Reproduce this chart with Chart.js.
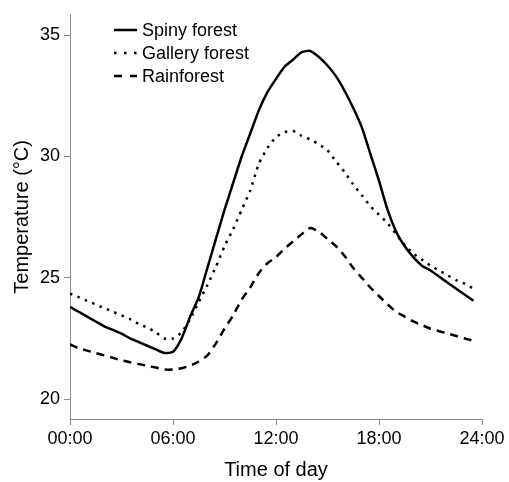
<!DOCTYPE html>
<html>
<head>
<meta charset="utf-8">
<script src="https://cdn.jsdelivr.net/npm/chart.js@4/dist/chart.umd.min.js"></script>
<style>
  html, body { margin: 0; padding: 0; background: #fff; }
</style>
</head>
<body>
<canvas id="tempChart" width="509" height="482"></canvas>
<script>
///////////// DATA /////////////

// half-hourly readings, 00:00 to 23:30
const hours = [0, 0.5, 1, 1.5, 2, 2.5, 3, 3.5, 4, 4.5, 5, 5.5, 6, 6.5, 7, 7.5, 8, 8.5, 9, 9.5,
  10, 10.5, 11, 11.5, 12, 12.5, 13, 13.5, 14, 14.5, 15, 15.5, 16, 16.5, 17, 17.5, 18, 18.5, 19, 19.5,
  20, 20.5, 21, 21.5, 22, 22.5, 23, 23.5];

const spinyForest = [23.8, 23.6, 23.4, 23.2, 23.0, 22.85, 22.7, 22.5, 22.35, 22.2, 22.05, 21.9, 21.95, 22.5, 23.4, 24.2,
  25.4, 26.6, 27.8, 28.9, 30.0, 30.95, 31.9, 32.65, 33.2, 33.7, 34.0, 34.3, 34.35, 34.1, 33.75, 33.3,
  32.7, 32.0, 31.2, 30.1, 29.0, 27.8, 26.9, 26.3, 25.85, 25.5, 25.3, 25.05, 24.8, 24.55, 24.3, 24.05];

const galleryForest = [24.35, 24.2, 24.05, 23.9, 23.75, 23.6, 23.45, 23.3, 23.1, 22.95, 22.75, 22.5, 22.5, 22.75, 23.3, 24.0,
  24.7, 25.45, 26.3, 27.0, 27.8, 28.6, 29.7, 30.35, 30.8, 31.0, 31.05, 30.85, 30.7, 30.5, 30.25, 29.8,
  29.35, 28.85, 28.4, 27.95, 27.6, 27.25, 26.8, 26.35, 26.0, 25.75, 25.5, 25.3, 25.1, 24.9, 24.75, 24.55];

const rainforest = [22.25, 22.1, 22.0, 21.9, 21.8, 21.7, 21.6, 21.52, 21.45, 21.37, 21.3, 21.22, 21.22, 21.27, 21.38, 21.55,
  21.8, 22.3, 22.9, 23.45, 24.1, 24.6, 25.2, 25.6, 25.85, 26.2, 26.5, 26.8, 27.05, 26.9, 26.6, 26.3,
  25.9, 25.4, 25.0, 24.6, 24.25, 23.9, 23.6, 23.4, 23.2, 23.05, 22.9, 22.8, 22.7, 22.6, 22.5, 22.4];

const timeTicks = [0, 6, 12, 18, 24];
const timeLabels = ['00:00', '06:00', '12:00', '18:00', '24:00'];
const tempTicks = [20, 25, 30, 35];

const toPoints = vals => vals.map((v, i) => ({ x: hours[i], y: v }));

const FONT = 'Liberation Sans, Arial, sans-serif';
const AXIS_GREY = '#8a8a8a';

///////////// LEGEND (inside plot, top left) /////////////

const insideLegend = {
  id: 'insideLegend',
  afterDraw(chart, args, opts) {
    const { ctx } = chart;
    ctx.save();
    ctx.font = `18px ${FONT}`;
    ctx.textBaseline = 'middle';
    ctx.fillStyle = '#000';
    chart.data.datasets.forEach((ds, i) => {
      const y = opts.top + i * opts.rowGap;
      ctx.beginPath();
      ctx.setLineDash(opts.dashes[i]);
      ctx.lineWidth = ds.borderWidth;
      ctx.strokeStyle = ds.borderColor;
      ctx.moveTo(opts.left, y);
      ctx.lineTo(opts.left + opts.lineLen, y);
      ctx.stroke();
      ctx.setLineDash([]);
      ctx.fillText(ds.label, opts.left + opts.lineLen + 5, y + 1);
    });
    ctx.restore();
  }
};

///////////// CHART /////////////

const ctx = document.getElementById('tempChart').getContext('2d');

new Chart(ctx, {
  type: 'line',
  data: {
    datasets: [
      { label: 'Spiny forest', data: toPoints(spinyForest), borderColor: '#000', borderWidth: 2.5, tension: 0.2 },
      { label: 'Gallery forest', data: toPoints(galleryForest), borderColor: '#000', borderWidth: 2.5, borderDash: [2.5, 5.5], tension: 0.2 },
      { label: 'Rainforest', data: toPoints(rainforest), borderColor: '#000', borderWidth: 2.5, borderDash: [8, 6], tension: 0.2 }
    ]
  },
  options: {
    responsive: false,
    animation: false,
    elements: { point: { radius: 0 }, line: { borderCapStyle: 'butt' } },
    layout: { padding: { top: 12, right: 27, bottom: 0, left: 0 } },
    plugins: {
      legend: { display: false },
      tooltip: { enabled: false },
      insideLegend: { left: 114, top: 30, rowGap: 23, lineLen: 23, dashes: [[], [2.5, 7.5], [8, 8]] }
    },
    scales: {
      x: {
        type: 'linear',
        min: 0,
        max: 24,
        afterBuildTicks: s => { s.ticks = timeTicks.map(v => ({ value: v })); },
        afterFit: s => { s.height = 63; },
        ticks: {
          padding: 3,
          color: '#000',
          font: { family: FONT, size: 18 },
          maxRotation: 0,
          callback: v => timeLabels[timeTicks.indexOf(v)]
        },
        grid: { drawOnChartArea: false, drawTicks: true, tickLength: 6, color: AXIS_GREY },
        border: { color: AXIS_GREY, width: 1 },
        title: { display: true, text: 'Time of day', color: '#000', font: { family: FONT, size: 20 }, padding: { top: 0, bottom: 0 } }
      },
      y: {
        min: 19.18,
        max: 35.84,
        afterBuildTicks: s => { s.ticks = tempTicks.map(v => ({ value: v })); },
        afterFit: s => { s.width = 70; },
        ticks: { padding: 4, color: '#000', font: { family: FONT, size: 18 } },
        grid: { drawOnChartArea: false, drawTicks: true, tickLength: 6, color: AXIS_GREY },
        border: { color: AXIS_GREY, width: 1 },
        title: { display: true, text: 'Temperature (°C)', color: '#000', font: { family: FONT, size: 20 }, padding: { top: 10, bottom: 0 } }
      }
    }
  },
  plugins: [insideLegend]
});
</script>
</body>
</html>
